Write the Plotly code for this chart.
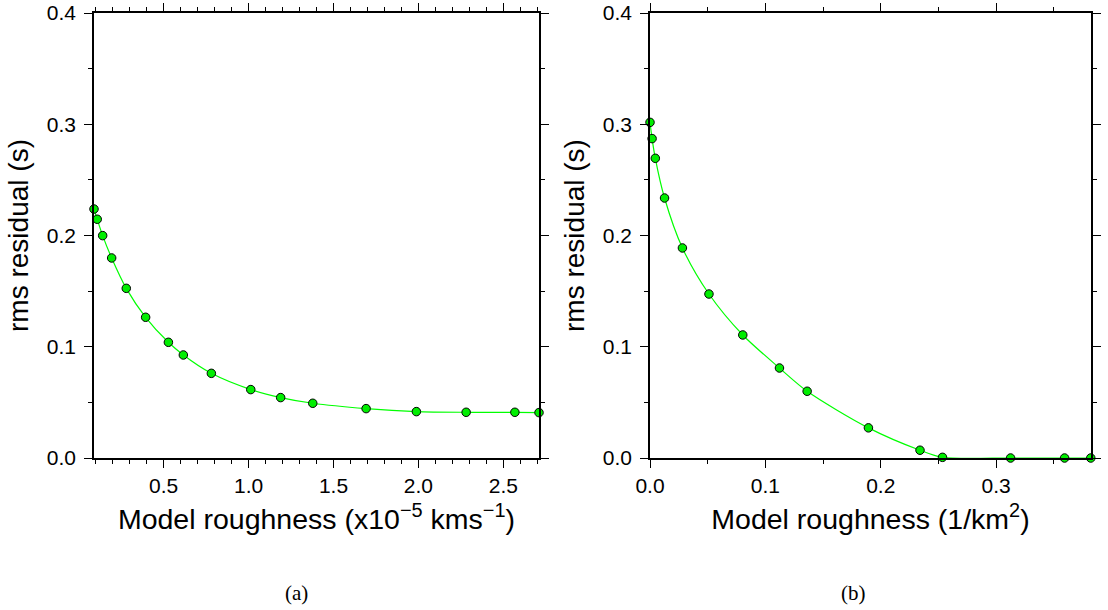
import plotly.graph_objects as go

# Panel (a)
roughness_a = [0.09, 0.109, 0.141, 0.194, 0.280, 0.394, 0.528, 0.616, 0.781, 1.013,
               1.189, 1.378, 1.692, 1.988, 2.281, 2.568, 2.71]
rms_a = [0.2238, 0.2146, 0.1999, 0.1798, 0.1525, 0.1265, 0.1040, 0.0926, 0.0761, 0.0615,
         0.0543, 0.0492, 0.0444, 0.0417, 0.0411, 0.0411, 0.0408]

# Panel (b)
roughness_b = [0.0, 0.0018, 0.0046, 0.0126, 0.0281, 0.0511, 0.0804, 0.1122, 0.1362, 0.1893,
               0.2340, 0.2535, 0.3125, 0.3593, 0.382]
rms_b = [0.3017, 0.2871, 0.2694, 0.2337, 0.1888, 0.1474, 0.1106, 0.0809, 0.0600, 0.0271,
         0.0070, 0.0006, 0.0, 0.0, 0.0]

xlabel_a = "Model roughness (x10<sup>\u22125</sup> kms<sup>\u22121</sup>)"
xlabel_b = "Model roughness (1/km<sup>2</sup>)"
ylabel = "rms residual (s)"
captions = ["(a)", "(b)"]

W, H = 1108, 610
FONT = "Liberation Sans, Arial, sans-serif"
LINE_GREEN = "#00ff00"
MARK_GREEN = "#00ee00"

fig = go.Figure()
for xs, ys, xa, ya in [(roughness_a, rms_a, "x", "y"), (roughness_b, rms_b, "x2", "y2")]:
    fig.add_trace(go.Scatter(
        x=xs, y=ys, xaxis=xa, yaxis=ya, mode="lines+markers",
        line=dict(color=LINE_GREEN, width=1.2, shape="spline", smoothing=0.8),
        marker=dict(size=8.5, color=MARK_GREEN, line=dict(color="black", width=1)),
        cliponaxis=False, showlegend=False, hoverinfo="skip",
    ))

def xaxis_common(domain, rng, dtick, minor_dtick, title):
    return dict(
        domain=domain, range=rng, dtick=dtick, tick0=0, tickformat=".1f", automargin=False,
        showline=True, linecolor="black", linewidth=1.5, mirror="ticks",
        ticks="outside", ticklen=8, tickwidth=1.2, tickcolor="black",
        minor=dict(dtick=minor_dtick, tick0=0, ticks="outside", ticklen=4, tickwidth=1, tickcolor="black"),
        showgrid=False, zeroline=False,
        tickfont=dict(family=FONT, size=21, color="black"),
        title=dict(text=title, font=dict(family=FONT, size=28.5, color="black"), standoff=13),
        fixedrange=True,
    )

def yaxis_common(domain, anchor):
    return dict(
        domain=domain, range=[0, 0.4], dtick=0.1, tick0=0, tickformat=".1f", anchor=anchor,
        automargin=False, ticklabelstandoff=4,
        showline=True, linecolor="black", linewidth=1.5, mirror="ticks",
        ticks="outside", ticklen=8, tickwidth=1.2, tickcolor="black",
        minor=dict(dtick=0.05, tick0=0, ticks="outside", ticklen=4, tickwidth=1, tickcolor="black"),
        showgrid=False, zeroline=False,
        tickfont=dict(family=FONT, size=21, color="black"),
        title=dict(text=ylabel, font=dict(family=FONT, size=28, color="black"), standoff=10),
        fixedrange=True,
    )

ydom = [1 - 458 / H, 1 - 13 / H]
fig.update_layout(
    width=W, height=H, margin=dict(l=0, r=0, t=0, b=0),
    paper_bgcolor="white", plot_bgcolor="white",
    xaxis=dict(**xaxis_common([94 / W, 539 / W], [0.09, 2.71], 0.5, 0.1, xlabel_a), anchor="y"),
    yaxis=yaxis_common(ydom, "x"),
    xaxis2=dict(**xaxis_common([650 / W, 1091 / W], [0.0, 0.3822], 0.1, 0.05, xlabel_b), anchor="y2"),
    yaxis2=yaxis_common(ydom, "x2"),
)

for cx, txt in zip([296 / W, 853 / W], captions):
    fig.add_annotation(x=cx, y=1 - 593 / H, xref="paper", yref="paper", text=txt,
                       showarrow=False, xanchor="center", yanchor="middle",
                       font=dict(family="Liberation Serif, DejaVu Serif, serif", size=21, color="black"))

fig.write_html("out.html")
